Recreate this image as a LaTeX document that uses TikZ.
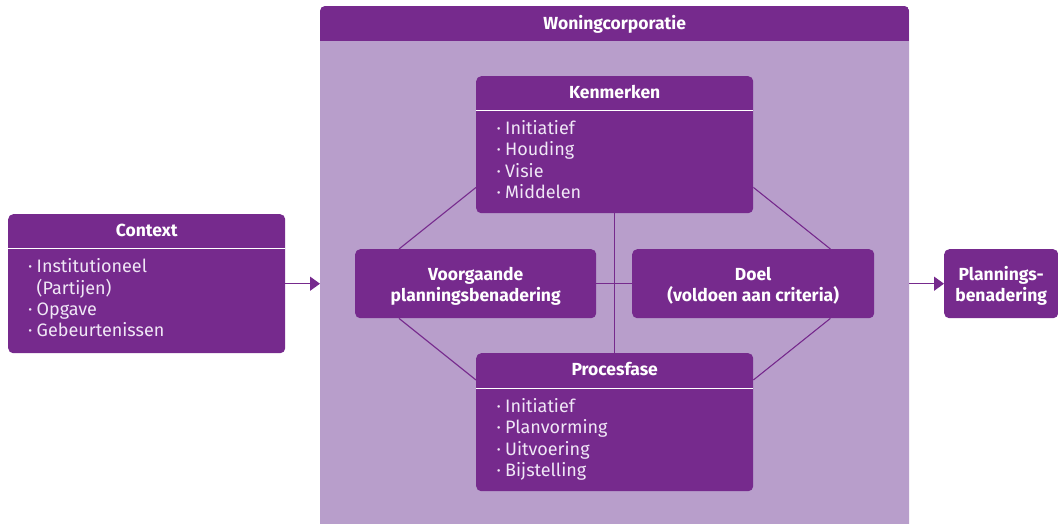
\documentclass[tikz,border=0pt]{standalone}
\usepackage{fontspec}
\setmainfont{Fira Sans}
\usetikzlibrary{arrows.meta,calc}
\definecolor{pdark}{RGB}{118,42,141}
\definecolor{plight}{RGB}{184,158,203}
\definecolor{ptext}{RGB}{240,231,246}
\newcommand{\bul}{\makebox[8.5pt][l]{·}}
\newcommand{\nob}{\makebox[8.5pt][l]{}}
\begin{document}
\begin{tikzpicture}[x=1pt,y=-1pt,
  box/.style={fill=pdark, draw=none, rounded corners=5pt, inner sep=0pt, anchor=north west},
  outerbox/.style={fill=plight, draw=none, rounded corners=5pt, inner sep=0pt, anchor=north west},
  head/.style={text=white, font=\fontsize{17.5}{21.3}\selectfont\bfseries, inner sep=0pt, anchor=base},
  mid/.style={text=white, font=\fontsize{17.5}{21.5}\selectfont\bfseries, inner sep=0pt, align=center, anchor=base},
  body/.style={text=ptext, font=\fontsize{18}{21.3}\selectfont, inner sep=0pt, align=left, anchor=base west},
  sep/.style={draw=white, line width=0.9pt},
  conn/.style={draw=pdark, line width=1.1pt},
  flow/.style={draw=pdark, line width=1.5pt, -{Triangle[length=10pt,width=14pt]}}
]
\useasboundingbox (0,0) rectangle (1058,523);
\clip (0,0) rectangle (1058,523);

% organisation frame with its title band
\node[outerbox, minimum width=589pt, minimum height=554pt] (woning) at (320,6) {};
\begin{scope}
  \clip[rounded corners=5pt] (woning.north west) rectangle (woning.south east);
  \fill[pdark] (woning.north west) rectangle ([yshift=-35pt]woning.north east);
\end{scope}
\node[head] (wtitle) at ([yshift=-23.3pt]woning.north) {Woningcorporatie};

% boxes
\node[box, minimum width=277pt, minimum height=139pt] (context) at (8,214) {};
\node[box, minimum width=277pt, minimum height=137pt] (kenm) at (476,76) {};
\node[box, minimum width=277pt, minimum height=138pt] (proc) at (476,353) {};
\node[box, minimum width=241pt, minimum height=69pt] (voor) at (355,249) {};
\node[box, minimum width=242pt, minimum height=69pt] (doel) at (632,249) {};
\node[box, minimum width=114pt, minimum height=69pt] (plan) at (944,249) {};

% connectors inside the frame
\draw[conn] (kenm.south) -- (proc.north);
\draw[conn] (voor.east) -- (doel.west);
\draw[conn] ([yshift=26pt]kenm.south west) -- ([xshift=44pt]voor.north west);
\draw[conn] ([xshift=44pt]voor.south west) -- ([yshift=-27pt]proc.north west);
\draw[conn] ([yshift=26pt]kenm.south east) -- ([xshift=-44pt]doel.north east);
\draw[conn] ([xshift=-44pt]doel.south east) -- ([yshift=-27pt]proc.north east);

% flow arrows
\draw[flow] (context.east) -- (context.east -| woning.west);
\draw[flow] (plan.west -| woning.east) -- (plan.west);

% header separators
\draw[sep] ([yshift=-34pt]context.north west) -- ([yshift=-34pt]context.north east);
\draw[sep] ([yshift=-34pt]kenm.north west) -- ([yshift=-34pt]kenm.north east);
\draw[sep] ([yshift=-35pt]proc.north west) -- ([yshift=-35pt]proc.north east);

% titles
\node[head] (ctxhead) at ([yshift=-22.7pt]context.north) {Context};
\node[head] (kenhead) at ([yshift=-22.3pt]kenm.north) {Kenmerken};
\node[head] (prochead) at ([yshift=-22.7pt]proc.north) {Procesfase};

% lists (anchored at the baseline of the last line)
\node[body] (ctxbody) at (28,336.7) {\bul Institutioneel\\\nob(Partijen)\\\bul Opgave\\\bul Gebeurtenissen};
\node[body] (kenbody) at (496.5,198.3) {\bul Initiatief\\\bul Houding\\\bul Visie\\\bul Middelen};
\node[body] (procbody) at (496.5,476.5) {\bul Initiatief\\\bul Planvorming\\\bul Uitvoering\\\bul Bijstelling};

% centred labels (anchored at the baseline of the last line)
\node[mid] (voortext) at ([yshift=-18pt]voor.center) {Voorgaande\\planningsbenadering};
\node[mid] (doeltext) at ([yshift=-18pt]doel.center) {Doel\\(voldoen aan criteria)};
\node[mid] (plantext) at ([yshift=-18pt]plan.center) {Plannings-\\benadering};
\end{tikzpicture}
\end{document}
